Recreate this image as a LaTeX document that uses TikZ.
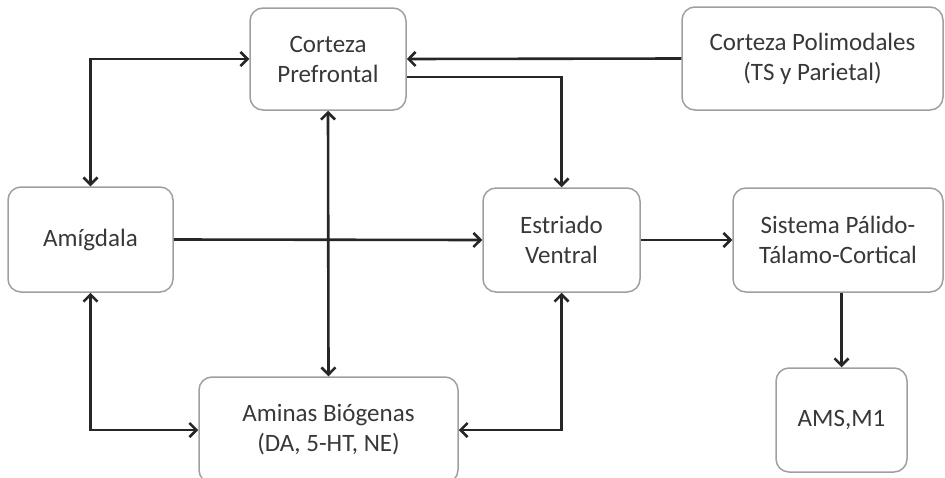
\documentclass[tikz,border=0pt]{standalone}
\usepackage{fontspec}
\setmainfont{Carlito}
\usepackage{tikz}
\usetikzlibrary{arrows.meta}

\begin{document}
\begin{tikzpicture}[x=1pt,y=-1pt,
    caja/.style={draw=gray!75,line width=1.5pt,rounded corners=13pt,
      align=center,text=black!78,font=\fontsize{25}{30}\selectfont,
      inner sep=0pt},
    flecha/.style={line width=2.6pt,draw=black!85,
      arrows={-Straight Barb[length=7pt,width=14pt,line width=2.6pt]}},
    doble/.style={flecha,
      arrows={Straight Barb[length=7pt,width=14pt,line width=2.6pt]-Straight Barb[length=7pt,width=14pt,line width=2.6pt]}}]
  \useasboundingbox (0,0) rectangle (945,477);
  % cajas
  \node[caja,minimum width=156pt,minimum height=102pt] (cp) at (328,59)
    {Corteza\\Prefrontal};
  \node[caja,minimum width=261pt,minimum height=103pt] (poli) at (812.5,58.5)
    {Corteza Polimodales\\(TS y Parietal)};
  \node[caja,minimum width=165pt,minimum height=105pt] (amig) at (90.5,239.5)
    {Amígdala};
  \node[caja,minimum width=157pt,minimum height=104pt] (estr) at (561.5,240)
    {Estriado\\Ventral};
  \node[caja,minimum width=210pt,minimum height=104pt] (sist) at (838,240)
    {Sistema Pálido-\\Tálamo-Cortical};
  \node[caja,minimum width=259pt,minimum height=106pt] (amin) at (328.5,430)
    {Aminas Biógenas\\(DA, 5-HT, NE)};
  \node[caja,minimum width=131pt,minimum height=104pt] (ams) at (841.5,420)
    {AMS,M1};
  % conexiones
  \draw[doble] (amig.north) |- (cp.west);
  \draw[flecha] (poli.west) -- (cp.east);
  \draw[flecha] ([yshift=-18pt]cp.east) -| (estr.north);
  \draw[doble] (cp.south) -- (amin.north);
  \draw[flecha] (amig.east) -- (estr.west);
  \draw[flecha] (estr.east) -- (sist.west);
  \draw[flecha] (ams.north |- sist.south) -- (ams.north);
  \draw[doble] (amig.south) |- (amin.west);
  \draw[doble] (estr.south) |- (amin.east);
\end{tikzpicture}
\end{document}
